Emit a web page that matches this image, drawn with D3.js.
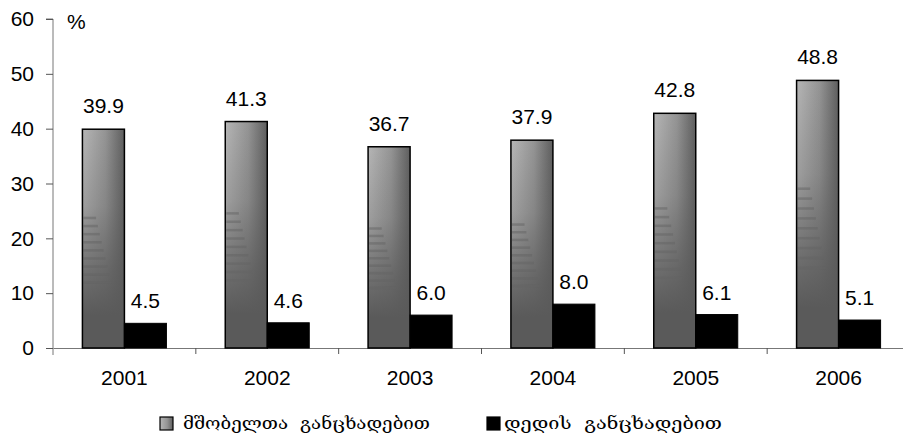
<!DOCTYPE html>
<html>
<head>
<meta charset="utf-8">
<script src="https://cdn.jsdelivr.net/npm/d3@7"></script>
<style>
  body { margin: 0; background: #fff; }
  svg { display: block; }
  text { font-family: "Liberation Sans", Arial, sans-serif; fill: #000; }
</style>
</head>
<body>
<div id="chart"></div>
<script>
// data
const years = ["2001", "2002", "2003", "2004", "2005", "2006"];
const parents = [39.9, 41.3, 36.7, 37.9, 42.8, 48.8];
const mother = [4.5, 4.6, 6.0, 8.0, 6.1, 5.1];
const yTicks = [0, 10, 20, 30, 40, 50, 60];
const seriesNames = ["მშობელთა  განცხადებით", "დედის  განცხადებით"];

const W = 903, H = 439;
const x0 = 53, yBase = 348, yTop = 19;

const svg = d3.select("#chart").append("svg")
  .attr("width", W).attr("height", H);

const defs = svg.append("defs");
const hg = defs.append("linearGradient").attr("id", "hgrad")
  .attr("x1", 0).attr("x2", 1).attr("y1", 0).attr("y2", 0);
hg.append("stop").attr("offset", "0%").attr("stop-color", "#b6b6b6");
hg.append("stop").attr("offset", "55%").attr("stop-color", "#949494");
hg.append("stop").attr("offset", "100%").attr("stop-color", "#5e5e5e");

const vg = defs.append("linearGradient").attr("id", "vgrad")
  .attr("x1", 0).attr("x2", 0).attr("y1", 0).attr("y2", 1);
vg.append("stop").attr("offset", "0%").attr("stop-color", "#5a5a5a").attr("stop-opacity", 0);
vg.append("stop").attr("offset", "35%").attr("stop-color", "#5a5a5a").attr("stop-opacity", 0.25);
vg.append("stop").attr("offset", "65%").attr("stop-color", "#5a5a5a").attr("stop-opacity", 0.75);
vg.append("stop").attr("offset", "85%").attr("stop-color", "#5a5a5a").attr("stop-opacity", 1);

const x = d3.scaleBand().domain(years).range([x0, 910]).paddingInner(0).paddingOuter(0);
const y = d3.scaleLinear().domain([0, 60]).range([yBase, yTop]);
const barW = 42;

// axes
const gy = svg.append("g").attr("transform", `translate(${x0},0)`)
  .call(d3.axisLeft(y).tickValues(yTicks).tickSize(7).tickPadding(12).tickFormat(d3.format("d")));
gy.select(".domain").attr("stroke", "#777").attr("d", `M-7,${yTop}H0V${yBase + 7}`);
gy.selectAll(".tick line").attr("stroke", "#555");
gy.selectAll(".tick text").style("font-size", "21px").attr("font-family", null);

const gx = svg.append("g").attr("transform", `translate(0,${yBase})`)
  .call(d3.axisBottom(x).tickSize(0).tickPadding(22));
gx.select(".domain").attr("stroke", "#777");
gx.selectAll(".tick text").style("font-size", "21px").attr("font-family", null);
// category separators
gx.selectAll(".sep").data(years.slice(1)).join("line")
  .attr("x1", d => x(d)).attr("x2", d => x(d))
  .attr("y1", 0).attr("y2", 6).attr("stroke", "#555");

svg.append("text").attr("x", 67).attr("y", 29).style("font-size", "21px").text("%");

// bars
const groups = svg.append("g").selectAll("g").data(years).join("g");

groups.each(function (yr, i) {
  const g = d3.select(this);
  const cx = x(yr) + x.bandwidth() / 2;
  const gx0 = cx - barW, bx0 = cx;
  const top = y(parents[i]), h = yBase - top;
  g.append("rect").attr("x", gx0).attr("y", top).attr("width", barW).attr("height", h)
    .attr("fill", "url(#hgrad)");
  g.append("rect").attr("x", gx0).attr("y", top).attr("width", barW).attr("height", h)
    .attr("fill", "url(#vgrad)");
  // texture streaks
  for (let k = 0; k < 9; k++) {
    const t = 0.4 + k * 0.037;
    g.append("rect").attr("x", gx0 + 1).attr("y", top + h * t)
      .attr("width", barW * (0.3 + k * 0.045)).attr("height", 2.5)
      .attr("fill", "#646464").attr("opacity", 0.5);
  }
  g.append("rect").attr("x", gx0).attr("y", top).attr("width", barW).attr("height", h)
    .attr("fill", "none").attr("stroke", "#000").attr("stroke-width", 1.5);

  const mt = y(mother[i]);
  g.append("rect").attr("x", bx0).attr("y", mt).attr("width", barW).attr("height", yBase - mt)
    .attr("fill", "#000").attr("stroke", "#000");

  g.append("text").attr("x", gx0 + barW / 2).attr("y", top - 16)
    .attr("text-anchor", "middle").style("font-size", "21px").text(parents[i].toFixed(1));
  g.append("text").attr("x", bx0 + barW / 2).attr("y", mt - 15)
    .attr("text-anchor", "middle").style("font-size", "21px").text(mother[i].toFixed(1));
});

// legend
const legend = [
  { x: 160, fill: "url(#hgrad)", tx: 183, tw: 247 },
  { x: 487, fill: "#000", tx: 504, tw: 218 }
];
const lg = svg.append("g").selectAll("g").data(legend).join("g");
lg.append("rect").attr("x", d => d.x).attr("y", 417).attr("width", 13).attr("height", 13)
  .attr("fill", d => d.fill).attr("stroke", "#000").attr("stroke-width", 1.2);
lg.append("text").attr("x", d => d.tx).attr("y", 429)
  .style("font-family", "'DejaVu Serif', 'DejaVu Sans', serif").style("font-size", "17px")
  .style("white-space", "pre")
  .attr("textLength", d => d.tw).attr("lengthAdjust", "spacingAndGlyphs")
  .text((d, i) => seriesNames[i]);
</script>
</body>
</html>
